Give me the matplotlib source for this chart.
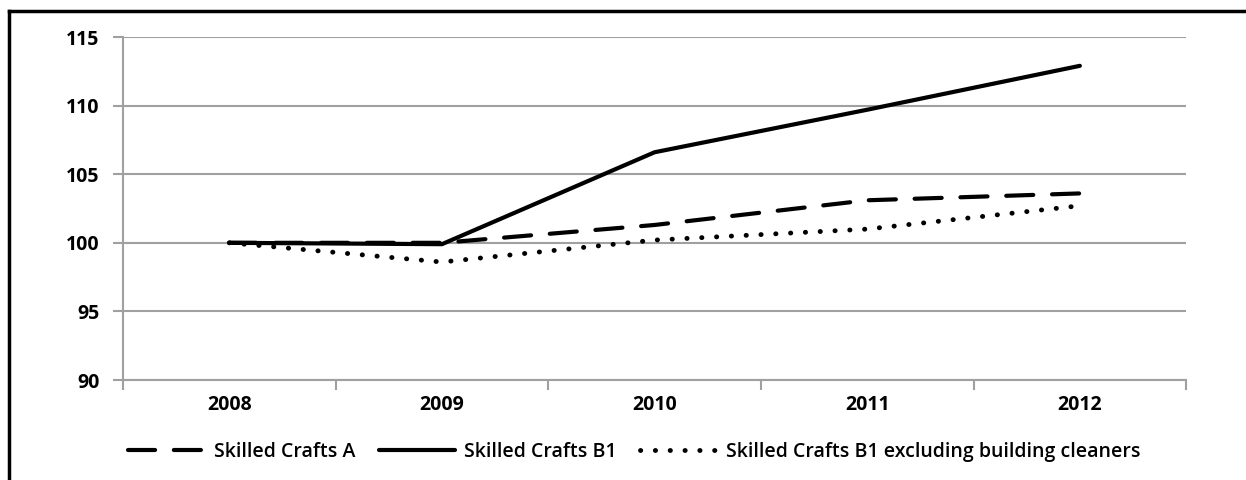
import matplotlib
matplotlib.use("Agg")
import matplotlib.pyplot as plt
from matplotlib.lines import Line2D

# Data
years = ["2008", "2009", "2010", "2011", "2012"]
crafts_a = [100.0, 100.0, 101.3, 103.1, 103.6]
crafts_b1 = [100.0, 99.9, 106.6, 109.7, 112.9]
crafts_b1_excl = [100.0, 98.6, 100.2, 101.0, 102.7]

series_labels = [
    "Skilled Crafts A",
    "Skilled Crafts B1",
    "Skilled Crafts B1 excluding building cleaners",
]

plt.rcParams["font.family"] = ["Open Sans", "DejaVu Sans"]

fig = plt.figure(figsize=(12.46, 4.8), dpi=100)
ax = fig.add_axes([0.0987, 0.2083, 0.8533, 0.7146])

x = list(range(len(years)))
grid_col = "#a0a0a0"

ax.plot(x, crafts_a, color="black", lw=3.0, linestyle=(0, (6.5, 4.5)),
        solid_capstyle="round", dash_capstyle="round", label=series_labels[0])
ax.plot(x, crafts_b1, color="black", lw=3.0, solid_capstyle="round",
        label=series_labels[1])
ax.plot(x, crafts_b1_excl, color="black", lw=3.5, linestyle=(0, (0.05, 3.0)),
        dash_capstyle="round", label=series_labels[2])

ax.set_xlim(-0.5, len(years) - 0.5)
ax.set_ylim(90, 115)
ax.set_yticks([90, 95, 100, 105, 110, 115])
ax.set_xticks(x)
ax.set_xticklabels(years)
ax.set_xticks([i - 0.5 for i in range(len(years) + 1)], minor=True)

ax.grid(axis="y", color=grid_col, lw=1.5)
ax.set_axisbelow(True)
for side in ["top", "right"]:
    ax.spines[side].set_visible(False)
for side in ["left", "bottom"]:
    ax.spines[side].set_color(grid_col)
    ax.spines[side].set_linewidth(1.5)

ax.tick_params(axis="y", length=7, width=1.5, color=grid_col, pad=10,
               labelsize=14)
ax.tick_params(axis="x", which="major", length=0, pad=11, labelsize=14)
ax.tick_params(axis="x", which="minor", length=7, width=1.5, color=grid_col)
for lbl in ax.get_xticklabels() + ax.get_yticklabels():
    lbl.set_fontweight("bold")

leg = ax.legend(loc="upper center", bbox_to_anchor=(0.481, -0.13), ncol=3,
                frameon=False, handlelength=3.9, columnspacing=1.2,
                handletextpad=0.5, prop={"size": 14, "weight": "semibold"})

# Black frame (only top and left edges visible in the crop)
fig.add_artist(Line2D([9 / 1246, 1.0], [1 - 11 / 480, 1 - 11 / 480],
                      transform=fig.transFigure, color="black", lw=2.5))
fig.add_artist(Line2D([9 / 1246, 9 / 1246], [0.0, 1 - 11 / 480],
                      transform=fig.transFigure, color="black", lw=2.5))

fig.savefig("out.png", dpi=100)
